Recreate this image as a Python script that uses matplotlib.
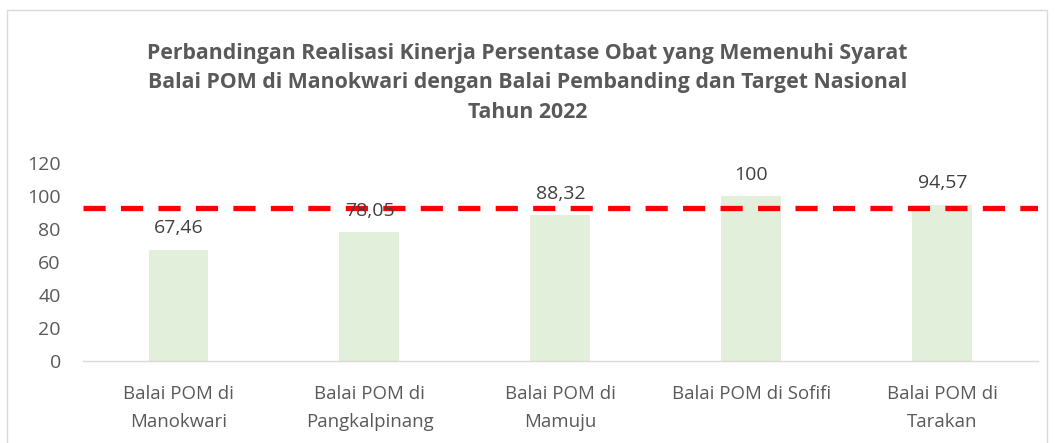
import matplotlib
matplotlib.use('Agg')
import matplotlib.pyplot as plt
from matplotlib.patches import Rectangle

# --- Data ---
categories = ["Balai POM di\nManokwari", "Balai POM di\nPangkalpinang", "Balai POM di\nMamuju",
              "Balai POM di Sofifi", "Balai POM di\nTarakan"]
values = [67.46, 78.05, 88.32, 100, 94.57]
value_labels = ["67,46", "78,05", "88,32", "100", "94,57"]
target = 92.7
y_ticks = [0, 20, 40, 60, 80, 100, 120]

TEXT = '#595959'
plt.rcParams['font.family'] = ['Open Sans', 'DejaVu Sans']

fig = plt.figure(figsize=(10.55, 4.43), dpi=100)
ax = fig.add_axes([0.0787, 0.185, 0.905, 0.447])

x = list(range(len(categories)))
ax.bar(x, values, width=0.314, color='#E2EFDA', zorder=2)
ax.axhline(target, color='#FF0000', linewidth=3.8, linestyle=(0, (4.2, 2.9)), zorder=3)

for xi, v, lab in zip(x, values, value_labels):
    ax.annotate(lab, (xi, v), xytext=(0, 9), textcoords='offset points',
                ha='center', va='bottom', fontsize=14, color='#404040', zorder=4)

ax.set_xlim(-0.5, len(categories) - 0.5)
ax.set_ylim(0, 120)
ax.set_yticks(y_ticks)
ax.set_xticks(x)
ax.set_xticklabels(categories, linespacing=1.75)
ax.tick_params(axis='both', length=0, colors=TEXT, labelsize=14)
ax.tick_params(axis='x', labelsize=13.4, pad=17)
ax.tick_params(axis='y', pad=16)
for s in ['top', 'right', 'left']:
    ax.spines[s].set_visible(False)
ax.spines['bottom'].set_color('#D9D9D9')
ax.spines['bottom'].set_linewidth(1)

fig.text(0.5, 0.813, "Perbandingan Realisasi Kinerja Persentase Obat yang Memenuhi Syarat\n"
         "Balai POM di Manokwari dengan Balai Pembanding dan Target Nasional\nTahun 2022",
         ha='center', va='center', fontsize=15.3, fontweight='bold', color=TEXT, linespacing=1.55)

# outer chart border
fig.patches.append(Rectangle((7 / 1055, -0.01), 1040 / 1055, 1 - 10 / 443 + 0.01,
                             transform=fig.transFigure, fill=False, edgecolor='#D9D9D9', linewidth=1))

fig.savefig('out.png', dpi=100)
